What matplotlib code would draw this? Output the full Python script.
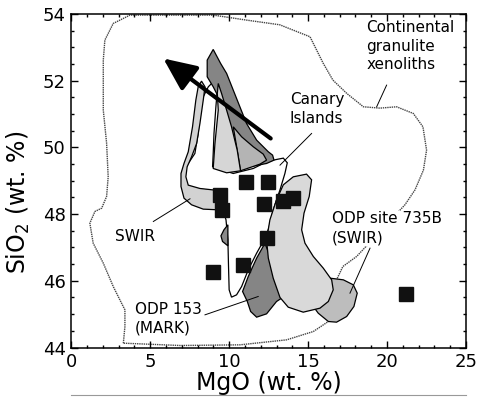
import matplotlib.pyplot as plt
from matplotlib.patches import Polygon
from matplotlib.ticker import MultipleLocator

# sample points: MgO vs SiO2 (wt. %)
mgo = [9.42, 9.52, 11.07, 12.49, 12.21, 13.38, 14.06, 12.41, 10.85, 9.0, 21.18]
sio2 = [48.58, 48.13, 48.95, 48.95, 48.31, 48.39, 48.47, 47.28, 46.46, 46.26, 45.59]

# field outlines (MgO, SiO2)
continental = [(3.3, 44.13), (3.4, 44.63), (3.4, 45.13), (3.08, 45.43), (2.66, 45.83),
               (2.03, 46.53), (1.39, 47.13), (1.18, 47.73), (1.5, 48.08), (1.93, 48.18),
               (2.24, 48.53), (2.34, 49.12), (2.24, 50.13), (2.03, 51.12), (2.03, 52.62),
               (2.13, 53.22), (2.66, 53.72), (3.72, 53.97), (9.0, 53.97), (11.1, 53.82),
               (13.2, 53.68), (15.12, 53.32), (15.95, 52.53), (16.57, 52.02), (17.45, 51.62),
               (18.5, 51.22), (19.55, 51.18), (20.6, 51.22), (21.66, 51.02), (22.27, 50.62),
               (22.5, 49.92), (22.3, 49.32), (21.77, 48.73), (21.13, 48.28), (18.07, 46.73),
               (17.2, 46.43), (16.8, 46.03), (16.28, 44.78), (15.33, 44.48), (13.64, 44.23),
               (10.68, 44.08), (6.9, 44.06), (3.3, 44.13)]

canary = [(9.1, 52.02), (9.25, 51.72), (9.16, 51.22), (9.04, 50.42), (8.99, 49.82),
          (8.95, 49.42), (10.26, 49.22), (11.53, 49.37), (12.37, 49.57), (13.0, 49.64),
          (13.43, 49.68), (13.68, 49.54), (13.53, 49.22), (13.22, 48.73), (12.79, 48.13),
          (12.54, 47.63), (12.33, 47.33), (11.74, 46.83), (11.21, 46.33), (10.79, 45.83),
          (10.47, 45.58), (10.15, 45.51), (10.0, 45.73), (9.96, 46.43), (9.92, 47.23),
          (9.8, 47.83), (9.54, 48.23), (9.31, 48.63), (8.57, 48.73), (7.52, 48.78),
          (7.03, 48.98), (7.0, 49.27), (7.41, 49.52), (7.83, 49.82), (8.04, 50.42),
          (8.15, 51.12), (8.36, 51.52), (8.68, 51.82)]

mark_top = [(8.99, 52.94), (9.46, 52.52), (9.84, 52.22), (10.26, 51.72), (10.68, 51.22),
            (11.1, 50.72), (11.74, 50.22), (12.48, 49.87), (12.75, 49.77), (12.84, 49.62),
            (12.37, 49.52), (10.68, 49.37), (10.05, 50.62), (9.42, 51.42), (8.99, 51.82),
            (8.61, 52.12), (8.61, 52.62)]

mid_top = [(10.26, 50.62), (10.79, 50.32), (11.53, 50.02), (12.16, 49.8), (12.37, 49.62),
           (11.95, 49.5), (10.72, 49.3), (10.51, 49.92)]

light_top = [(9.31, 51.92), (9.52, 51.62), (9.84, 51.12), (10.15, 50.62), (10.51, 49.92),
             (10.72, 49.3), (9.84, 49.24), (8.99, 49.37), (9.1, 50.12), (9.31, 51.12),
             (9.25, 51.62)]

swir = [(8.25, 51.99), (8.47, 51.82), (8.36, 51.42), (8.15, 50.72), (7.94, 50.12),
        (7.62, 49.72), (7.34, 49.42), (7.26, 49.12), (7.41, 48.87), (8.15, 48.77),
        (9.31, 48.71), (9.42, 48.43), (9.31, 48.13), (8.36, 48.15), (7.62, 48.28),
        (7.14, 48.48), (6.95, 48.83), (6.95, 49.22), (7.14, 49.52), (7.41, 49.87),
        (7.68, 50.62), (7.89, 51.42), (8.04, 51.82)]

mark_small = [(9.92, 47.68), (9.67, 47.53), (9.48, 47.35), (9.58, 47.18), (9.92, 47.05)]

site735_a = [(16.38, 46.08), (17.23, 46.03), (17.86, 45.88), (18.11, 45.63), (17.9, 45.23),
             (17.44, 44.93), (16.8, 44.76), (16.28, 44.78), (15.64, 45.03), (15.33, 45.23),
             (15.96, 45.43), (16.38, 45.73)]

mark_low = [(12.27, 47.13), (12.58, 46.73), (12.9, 46.13), (13.32, 45.48), (13.0, 45.38),
            (12.37, 45.01), (11.74, 44.91), (11.36, 45.08), (11.15, 45.38), (10.85, 45.68),
            (11.21, 46.13), (11.74, 46.68)]

site735_b = [(14.06, 49.12), (14.9, 49.2), (15.22, 49.03), (15.07, 48.53), (14.74, 48.03),
             (14.59, 47.53), (14.8, 47.13), (15.33, 46.73), (15.96, 46.38), (16.49, 46.03),
             (16.59, 45.73), (16.28, 45.38), (15.75, 45.18), (14.69, 45.06), (13.74, 45.21),
             (13.22, 45.5), (12.79, 46.08), (12.48, 46.68), (12.37, 47.23), (12.58, 47.83),
             (13.0, 48.43), (13.43, 48.88)]

# arrow (tail -> head)
arrow_tail = (12.63, 50.27)
arrow_head = (5.83, 52.67)

fig = plt.figure(figsize=(4.78, 4.03), dpi=100)
ax = fig.add_axes([0.149, 0.1377, 0.826, 0.8273])

cx, cy = zip(*continental)
ax.plot(cx, cy, color='#444444', lw=1.0, ls=(0, (1, 0.6)), zorder=1)

# draw order matters, later ones cover earlier ones
fields = [
    (canary, 'white'),
    (mark_top, '#858585'),
    (mid_top, '#b4b4b4'),
    (light_top, '#d6d6d6'),
    (swir, '#d2d2d2'),
    (mark_small, '#8a8a8a'),
    (site735_a, '#bdbdbd'),
    (mark_low, '#858585'),
    (site735_b, '#d9d9d9'),
]
for pts, col in fields:
    ax.add_patch(Polygon(pts, closed=True, facecolor=col, edgecolor='black', lw=0.9, zorder=2))

ax.plot(mgo, sio2, 's', color='#111111', ms=10.5, mec='#111111', zorder=4)

ax.annotate('', xy=arrow_head, xytext=arrow_tail,
            arrowprops=dict(arrowstyle='-|>,head_length=2.0,head_width=0.9',
                            lw=3, color='black', shrinkA=0, shrinkB=0), zorder=5)

fs = 11
ax.text(18.7, 53.82, 'Continental\ngranulite\nxenoliths', fontsize=fs, va='top', ha='left',
        linespacing=1.3, zorder=6)
ax.text(13.85, 51.67, 'Canary\nIslands', fontsize=fs, va='top', ha='left',
        linespacing=1.35, zorder=6)
ax.text(2.77, 47.33, 'SWIR', fontsize=fs, va='center', ha='left', zorder=6)
ax.text(4.03, 44.86, 'ODP 153\n(MARK)', fontsize=fs, va='center', ha='left',
        linespacing=1.35, zorder=6)
ax.text(16.49, 47.57, 'ODP site 735B\n(SWIR)', fontsize=fs, va='center', ha='left',
        linespacing=1.35, zorder=6,
        bbox=dict(facecolor='white', edgecolor='none', pad=0.5))

# leader lines
leaders = [((19.97, 51.87), (19.34, 51.22)),
           ((15.22, 50.42), (13.22, 49.47)),
           ((5.2, 47.78), (7.52, 48.46)),
           ((8.47, 44.98), (11.84, 45.53)),
           ((18.92, 46.98), (17.65, 45.63))]
for a, b in leaders:
    ax.plot([a[0], b[0]], [a[1], b[1]], color='black', lw=0.7, zorder=6)

ax.set_xlim(0, 25)
ax.set_ylim(44, 54)
ax.xaxis.set_major_locator(MultipleLocator(5))
ax.xaxis.set_minor_locator(MultipleLocator(1))
ax.yaxis.set_major_locator(MultipleLocator(2))
ax.yaxis.set_minor_locator(MultipleLocator(0.5))
ax.tick_params(which='both', direction='in', top=True, right=True, width=1)
ax.tick_params(which='major', length=5, labelsize=13, pad=4)
ax.tick_params(which='minor', length=2.5)
for s in ax.spines.values():
    s.set_linewidth(1.1)

ax.set_xlabel('MgO (wt. %)', fontsize=17, labelpad=0)
ax.set_ylabel('SiO$_2$ (wt. %)', fontsize=17)
ax.yaxis.set_label_coords(-0.10, 0.437)

# top edge of the next panel, cut off by the page
ax2 = fig.add_axes([0.149, -0.5, 0.826, 0.52])
ax2.set_xticks([])
ax2.set_yticks([])
for k, s in ax2.spines.items():
    s.set_visible(k == 'top')
ax2.spines['top'].set_color('#999999')

fig.savefig('out.png', dpi=100)
